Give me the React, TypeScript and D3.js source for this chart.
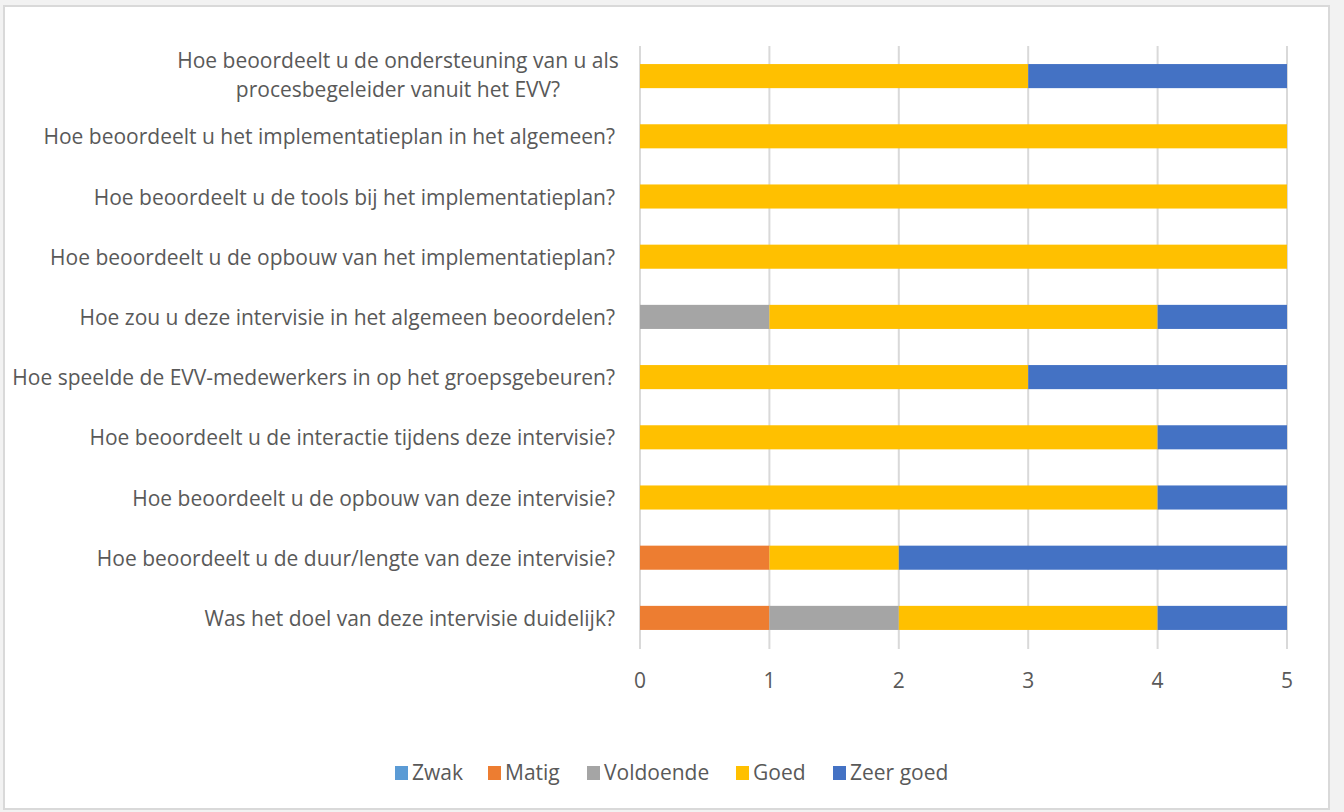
import React from "react";
import * as d3 from "d3";

const categories: string[][] = [
  ["Hoe beoordeelt u de ondersteuning van u als", "procesbegeleider vanuit het EVV?"],
  ["Hoe beoordeelt u het implementatieplan in het algemeen?"],
  ["Hoe beoordeelt u de tools bij het implementatieplan?"],
  ["Hoe beoordeelt u de opbouw van het implementatieplan?"],
  ["Hoe zou u deze intervisie in het algemeen beoordelen?"],
  ["Hoe speelde de EVV-medewerkers in op het groepsgebeuren?"],
  ["Hoe beoordeelt u de interactie tijdens deze intervisie?"],
  ["Hoe beoordeelt u de opbouw van deze intervisie?"],
  ["Hoe beoordeelt u de duur/lengte van deze intervisie?"],
  ["Was het doel van deze intervisie duidelijk?"],
];

const seriesNames = ["Zwak", "Matig", "Voldoende", "Goed", "Zeer goed"];
const seriesColors = ["#5B9BD5", "#ED7D31", "#A5A5A5", "#FFC000", "#4472C4"];

const zwak = [0, 0, 0, 0, 0, 0, 0, 0, 0, 0];
const matig = [0, 0, 0, 0, 0, 0, 0, 0, 1, 1];
const voldoende = [0, 0, 0, 0, 1, 0, 0, 0, 0, 1];
const goed = [3, 5, 5, 5, 3, 3, 4, 4, 1, 2];
const zeerGoed = [2, 0, 0, 0, 1, 2, 1, 1, 3, 1];

const xTicks = [0, 1, 2, 3, 4, 5];

const W = 1344;
const H = 812;
const FONT = "'Open Sans', sans-serif";
const TEXT = "#595959";
const GRID = "#d9d9d9";

export default function App() {
  const values = [zwak, matig, voldoende, goed, zeerGoed];
  const rows = categories.map((c, i) => {
    const r: Record<string, number | string> = { key: String(i) };
    seriesNames.forEach((s, j) => (r[s] = values[j][i]));
    return r;
  });
  const stack = d3.stack<Record<string, number | string>>().keys(seriesNames)(rows as any);

  const x = d3.scaleLinear().domain([0, 5]).range([640, 1287]);
  const y = d3
    .scaleBand<string>()
    .domain(categories.map((_, i) => String(i)))
    .range([46, 648])
    .paddingInner(0.6)
    .paddingOuter(0.3);

  const legendX = [395, 488, 587, 736, 833];

  return (
    <svg
      width={W}
      height={H}
      style={{ position: "absolute", left: 0, top: 0, fontFamily: FONT }}
    >
      <rect x={0} y={0} width={W} height={H} fill="#f2f2f2" />
      <rect x={4} y={6} width={1325} height={803} fill="#ffffff" stroke={GRID} strokeWidth={2} />
      {xTicks.map((t) => (
        <line key={t} x1={x(t)} x2={x(t)} y1={46} y2={649} stroke={GRID} strokeWidth={2} />
      ))}
      {stack.map((s, j) =>
        s.map((d, i) =>
          d[1] - d[0] > 0 ? (
            <rect
              key={`${j}-${i}`}
              x={x(d[0])}
              y={y(String(i))}
              width={x(d[1]) - x(d[0])}
              height={y.bandwidth()}
              fill={seriesColors[j]}
            />
          ) : null
        )
      )}
      {xTicks.map((t) => (
        <text key={t} x={x(t)} y={688} fontSize={21} fill={TEXT} textAnchor="middle">
          {t}
        </text>
      ))}
      {categories.map((lines, i) => {
        const cy = (y(String(i)) as number) + y.bandwidth() / 2;
        if (lines.length === 1) {
          return (
            <text key={i} x={615} y={cy + 8} fontSize={21} fill={TEXT} textAnchor="end">
              {lines[0]}
            </text>
          );
        }
        return (
          <text key={i} x={398} y={cy} fontSize={21} fill={TEXT} textAnchor="middle">
            {lines.map((l, k) => (
              <tspan key={k} x={398} y={cy - 8 + k * 29}>
                {l}
              </tspan>
            ))}
          </text>
        );
      })}
      {seriesNames.map((s, j) => (
        <g key={s}>
          <rect x={legendX[j]} y={766} width={13} height={14} fill={seriesColors[j]} />
          <text x={legendX[j] + 17} y={780} fontSize={21} fill={TEXT}>
            {s}
          </text>
        </g>
      ))}
    </svg>
  );
}
